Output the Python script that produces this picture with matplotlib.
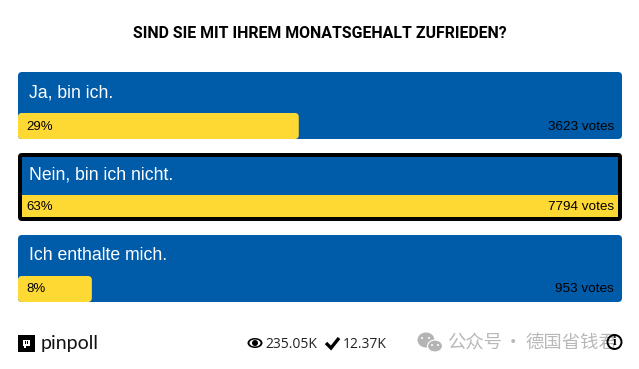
import matplotlib
matplotlib.use('Agg')
import matplotlib.pyplot as plt
from matplotlib.patches import FancyBboxPatch, Rectangle, Circle, Ellipse
from matplotlib.path import Path
from matplotlib.patches import PathPatch

title = 'SIND SIE MIT IHREM MONATSGEHALT ZUFRIEDEN?'
answers = ['Ja, bin ich.', 'Nein, bin ich nicht.', 'Ich enthalte mich.']
percents = [29, 63, 8]
votes = [3623, 7794, 953]
selected = 1
views = '235.05K'
total_votes = '12.37K'
brand = 'pinpoll'
watermark = ['公众号', '·', '德国省钱君']

blue = '#005ba9'
yellow = '#ffd933'

tops = [72, 153, 235]
bottoms = [139, 221, 302]
left = 18
right = 622
full_w = right - left

fig = plt.figure(figsize=(6.39, 3.69), dpi=100)
ax = fig.add_axes([0, 0, 1, 1])
ax.set_xlim(0, 639)
ax.set_ylim(369, 0)
ax.axis('off')


def rbox(x0, y0, x1, y1, r, color, z=1):
    p = FancyBboxPatch((x0 + r, y0 + r), x1 - x0 - 2 * r, y1 - y0 - 2 * r,
                       boxstyle='round,pad=%g,rounding_size=%g' % (r, r),
                       fc=color, ec='none', lw=0, zorder=z)
    ax.add_patch(p)
    return p


ax.text(319.5, 33, title, ha='center', va='center', fontsize=11.45, fontweight='bold',
        family='Roboto', color='black')

for i in range(3):
    w = votes[i] / max(votes) * full_w
    if i == selected:
        # gewaehlte antwort hat schwarzen rand
        rbox(left, tops[i], right, bottoms[i], 4, 'black', 1)
        ax.add_patch(Rectangle((left + 4, tops[i] + 4), full_w - 8, bottoms[i] - tops[i] - 8, fc=blue, ec='none', zorder=2))
        ax.add_patch(Rectangle((left + 4, bottoms[i] - 26), full_w - 8, 22, fc=yellow, ec='none', zorder=3))
        ty = tops[i] + 22
    else:
        rbox(left, tops[i], right, bottoms[i], 4, blue, 1)
        rbox(left, bottoms[i] - 26, left + w, bottoms[i], 4, yellow, 3)
        ty = tops[i] + 21
    ax.text(29, ty, answers[i], ha='left', va='center', fontsize=12.7,
            family='Liberation Sans', color='white', zorder=5)
    ybar = bottoms[i] - 13 - (2 if i == selected else 0)
    ax.text(26.5, ybar + 0.5, '%d%%' % percents[i], ha='left', va='center', fontsize=9.5,
            family='Liberation Sans', color='black', zorder=5)
    ax.text(614, ybar + 0.5, '%d votes' % votes[i], ha='right', va='center', fontsize=9.7,
            family='Liberation Sans', color='black', zorder=5)

# logo
ax.add_patch(Rectangle((18, 335), 17, 17, fc='black', ec='none'))
ax.add_patch(Rectangle((23, 340), 7, 6, fc='white', ec='none'))
ax.add_patch(Rectangle((25, 341), 1, 3, fc='black', ec='none'))
ax.add_patch(Rectangle((27, 341), 1, 3, fc='black', ec='none'))
ax.add_patch(Rectangle((24, 346), 2, 2, fc='white', ec='none'))
ax.text(41, 343, brand, ha='left', va='center', fontsize=14, family='Lato', color='#111111')

# auge
ax.add_patch(Ellipse((255, 343), 15, 10, fc='black', ec='none'))
ax.add_patch(Ellipse((255, 343), 11, 7, fc='white', ec='none'))
ax.add_patch(Circle((255, 343), 3, fc='black', ec='none'))
ax.text(265, 344, views, ha='left', va='center', fontsize=10, family='Open Sans', color='#222222')

# haken
check = Path([(326, 343), (331, 348), (339, 338)])
ax.add_patch(PathPatch(check, fc='none', ec='black', lw=2.4))
ax.text(343, 344, total_votes, ha='left', va='center', fontsize=10, family='Open Sans', color='#222222')

# wasserzeichen
ax.add_patch(Ellipse((426, 340), 17, 15, fc='#b4b4b4', ec='none'))
ax.add_patch(Ellipse((435, 346), 15, 12, fc='#b4b4b4', ec='white', lw=0.8))
for ex, ey in [(422, 338), (429, 338), (432, 345), (438, 345)]:
    ax.add_patch(Circle((ex, ey), 1, fc='white', ec='none'))
for part, wx in zip(watermark, [447, 504, 525]):
    ax.text(wx, 343, part, ha='left', va='center', fontsize=13.2,
            family=['Noto Sans CJK SC', 'DejaVu Sans'], color='#b8b8b8')

# info
ax.add_patch(Circle((614.5, 342), 7, fc='none', ec='black', lw=1.4, zorder=6))
ax.text(614.5, 342, 'i', ha='center', va='center', fontsize=9, fontweight='bold',
        family='Liberation Serif', color='black', zorder=6)

fig.savefig('out.png', dpi=100)
